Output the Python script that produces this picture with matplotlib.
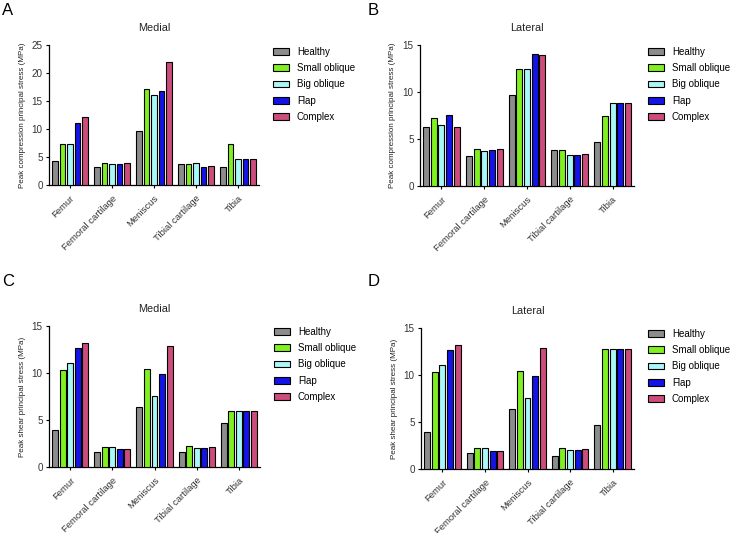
import matplotlib
matplotlib.use("Agg")
import matplotlib.pyplot as plt
import numpy as np

plt.rcParams['font.family'] = ['Liberation Sans', 'DejaVu Sans']

categories = ["Femur", "Femoral cartilage", "Meniscus", "Tibial cartilage", "Tibia"]
series = ["Healthy", "Small oblique", "Big oblique", "Flap", "Complex"]
colors = ['#8C8C8C', '#80F020', '#A8F8F8', '#1414E6', '#CC4C7C']

# Panel A: Medial, compression (rows = categories, cols = series)
a_vals = [
    [4.2, 7.25, 7.4, 11.1, 12.2],
    [3.2, 3.9, 3.7, 3.8, 3.95],
    [9.6, 17.2, 16.1, 16.7, 22.0],
    [3.8, 3.8, 3.95, 3.3, 3.4],
    [3.3, 7.4, 4.7, 4.7, 4.7],
]
# Panel B: Lateral, compression
b_vals = [
    [6.28, 7.27, 6.5, 7.55, 6.3],
    [3.2, 3.9, 3.72, 3.83, 3.97],
    [9.72, 12.4, 12.5, 14.08, 13.94],
    [3.87, 3.8, 3.26, 3.33, 3.4],
    [4.72, 7.48, 8.87, 8.87, 8.85],
]
# Panel C: Medial, shear
c_vals = [
    [3.95, 10.3, 11.05, 12.7, 13.15],
    [1.64, 2.17, 2.17, 1.88, 1.96],
    [6.33, 10.38, 7.54, 9.88, 12.83],
    [1.6, 2.28, 2.03, 2.03, 2.17],
    [4.66, 5.97, 5.97, 5.97, 5.97],
]
# Panel D: Lateral, shear
d_vals = [
    [3.97, 10.3, 11.05, 12.7, 13.15],
    [1.67, 2.2, 2.2, 1.9, 1.96],
    [6.33, 10.4, 7.54, 9.9, 12.85],
    [1.35, 2.27, 2.02, 2.06, 2.14],
    [4.65, 12.8, 12.8, 12.8, 12.8],
]

W, H = 731, 533
fig = plt.figure(figsize=(W / 100, H / 100), dpi=100)


def px_axes(left, top, right, bottom):
    return fig.add_axes([left / W, 1 - bottom / H, (right - left) / W, (bottom - top) / H])


panels = [
    ("A", "Medial", a_vals, 25, "Peak compression principal stress (MPa)", (49, 45, 259, 185), (2, 3), (273, 47)),
    ("B", "Lateral", b_vals, 15, "Peak compression principal stress (MPa)", (420, 45, 634, 186), (368, 3), (648, 47)),
    ("C", "Medial", c_vals, 15, "Peak shear principal stress (MPa)", (49, 326, 260, 467), (2, 274), (274, 327)),
    ("D", "Lateral", d_vals, 15, "Peak shear principal stress (MPa)", (421, 328, 634, 469), (368, 274), (648, 329)),
]

step = 0.179
width = 0.14
x = np.arange(len(categories))

for letter, title, vals, ymax, ylabel, box, lpos, legpos in panels:
    ax = px_axes(*box)
    v = np.array(vals)
    for j, s in enumerate(series):
        ax.bar(x + (j - 2) * step, v[:, j], width=width, color=colors[j],
               edgecolor='black', linewidth=0.8, label=s, zorder=3)
    ax.set_xlim(-0.5, 4.5)
    ax.set_ylim(0, ymax)
    ax.set_yticks(np.arange(0, ymax + 1, 5))
    ax.set_xticks(x)
    ax.set_xticklabels(categories, rotation=45, ha='right', rotation_mode='anchor')
    ax.spines['top'].set_visible(False)
    ax.spines['right'].set_visible(False)
    for sp in ('left', 'bottom'):
        ax.spines[sp].set_linewidth(0.9)
    ax.tick_params(axis='both', length=2.5, width=0.8, colors='black', pad=2)
    ax.tick_params(axis='y', labelcolor='#333333', labelsize=7.1)
    ax.tick_params(axis='x', labelcolor='#333333', labelsize=6.8, pad=4)
    ax.set_title(title, fontsize=7.8, pad=10, color='#222222')
    ax.set_ylabel(ylabel, fontsize=5.8, color='#222222')
    ax.yaxis.set_label_coords(-0.11, 0.5)
    fig.text(lpos[0] / W, 1 - lpos[1] / H, letter, fontsize=12, va='top', ha='left')
    ax.legend(loc='upper left', bbox_to_anchor=(legpos[0] / W, 1 - legpos[1] / H),
              bbox_transform=fig.transFigure, frameon=False, fontsize=7,
              handlelength=1.65, handleheight=0.7, labelspacing=0.64, handletextpad=0.8,
              borderaxespad=0, borderpad=0)

fig.savefig("out.png", dpi=100)
